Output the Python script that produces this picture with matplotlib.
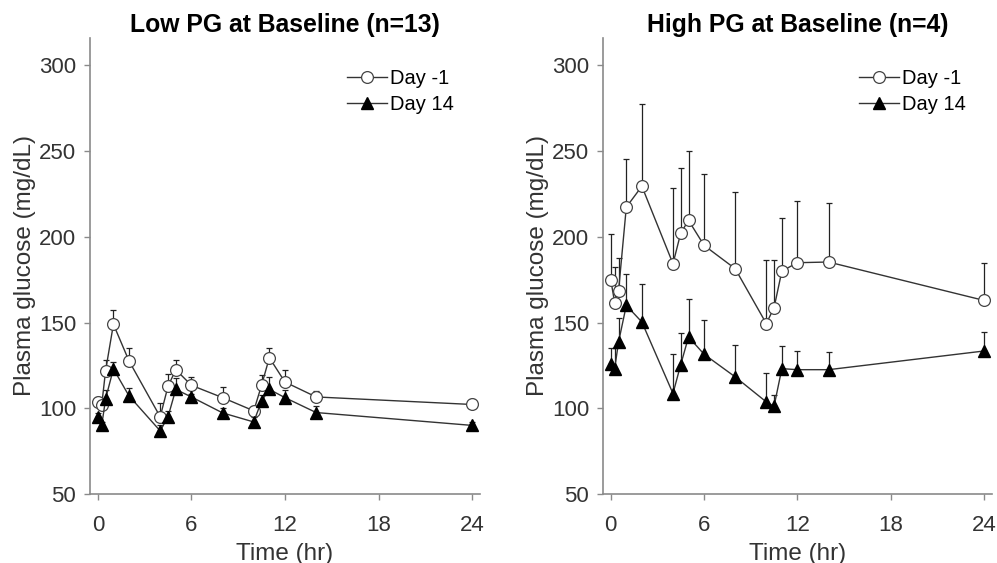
import matplotlib.pyplot as plt
import numpy as np

plt.rcParams['font.family'] = ['Liberation Sans', 'DejaVu Sans']

time_hr = [0, 0.25, 0.5, 1, 2, 4, 4.5, 5, 6, 8, 10, 10.5, 11, 12, 14, 24]

# Low PG at baseline (n=13)
low_day_m1 = [103.7, 102, 122, 149, 127.6, 95, 112.8, 122.5, 113.4, 106.2, 98.5, 113.4, 129.5, 115.3, 106.6, 102.2]
low_day_m1_err = [3, 3, 6, 8.5, 7.5, 8, 7, 5.5, 5, 6, 3, 6, 5.5, 7, 3.5, 3]
low_day_14 = [95, 90, 105.6, 123, 107.2, 86.8, 95, 111, 106.6, 97.3, 92, 104.3, 111, 106.2, 97.5, 90]
low_day_14_err = [2, 2, 5, 4, 4.5, 3.3, 3.5, 6.5, 2, 3, 3, 3.3, 7, 4.3, 3.7, 2]

# High PG at baseline (n=4)
high_day_m1 = [175, 161.6, 168.4, 217.3, 229.5, 184.3, 202.2, 209.6, 195, 181.4, 149.4, 158.7, 180, 184.9, 185.3, 162.9]
high_day_m1_err = [26.8, 20.7, 19.4, 28.2, 48.1, 44.3, 37.8, 40.2, 41.4, 44.7, 37.2, 27.9, 31.1, 35.9, 34.6, 22]
high_day_14 = [126, 123.1, 138.6, 160, 150.3, 108.6, 125.5, 141.6, 131.5, 118.3, 103.7, 101.2, 123.1, 122.5, 122.5, 133.4]
high_day_14_err = [9.4, 12.3, 14, 18.1, 22.4, 23.3, 18.4, 21.9, 19.8, 18.4, 17.1, 6.4, 13.2, 10.9, 10.3, 11.1]

titles = ["Low PG at Baseline (n=13)", "High PG at Baseline (n=4)"]
x_ticks = [0, 6, 12, 18, 24]
y_ticks = [50, 100, 150, 200, 250, 300]

fig = plt.figure(figsize=(9.97, 5.63), dpi=100)
ax1 = fig.add_axes([0.0903, 0.1226, 0.391, 0.81])
ax2 = fig.add_axes([0.6048, 0.1226, 0.390, 0.81])

panels = [
    (ax1, low_day_m1, low_day_m1_err, low_day_14, low_day_14_err),
    (ax2, high_day_m1, high_day_m1_err, high_day_14, high_day_14_err),
]

line_col = "#333333"
axis_col = "#8a8a8a"
text_col = "#333333"

for i, (ax, m1, m1e, d14, d14e) in enumerate(panels):
    t = np.array(time_hr)
    # upward-only error bars
    ax.errorbar(t, m1, yerr=[np.zeros(len(m1e)), m1e], fmt='none', ecolor="#222222",
                elinewidth=0.9, capsize=2.5, capthick=0.9, zorder=1)
    ax.errorbar(t, d14, yerr=[np.zeros(len(d14e)), d14e], fmt='none', ecolor="#222222",
                elinewidth=0.9, capsize=2.5, capthick=0.9, zorder=1)
    ax.plot(t, m1, '-o', color=line_col, lw=1.0, markersize=8.5, markerfacecolor='white',
            markeredgecolor="#444444", markeredgewidth=0.9, label="Day -1", zorder=3)
    ax.plot(t, d14, '-^', color=line_col, lw=1.0, markersize=8.5, markerfacecolor='black',
            markeredgecolor='black', label="Day 14", zorder=4)

    ax.set_xlim(-0.5, 24.5)
    ax.set_ylim(50, 316)
    ax.set_xticks(x_ticks)
    ax.set_yticks(y_ticks)
    for s in ['top', 'right']:
        ax.spines[s].set_visible(False)
    for s in ['left', 'bottom']:
        ax.spines[s].set_color(axis_col)
        ax.spines[s].set_linewidth(1.2)
    ax.tick_params(colors=axis_col, labelcolor=text_col, labelsize=16, length=4, width=1.0)
    ax.tick_params(axis='x', pad=11)
    ax.tick_params(axis='y', pad=6)
    ax.set_xlabel("Time (hr)", fontsize=17.5, color=text_col, labelpad=5)
    ax.set_ylabel("Plasma glucose (mg/dL)", fontsize=17.5, color=text_col, labelpad=2)
    ax.set_title(titles[i], fontsize=17.8, fontweight='bold', pad=4)
    ax.legend(loc='upper left', bbox_to_anchor=(0.638, 0.95), frameon=False, fontsize=14.5,
              handlelength=2.0, handletextpad=0.15, labelspacing=0.35, borderaxespad=0)

fig.savefig("out.png", dpi=100)
